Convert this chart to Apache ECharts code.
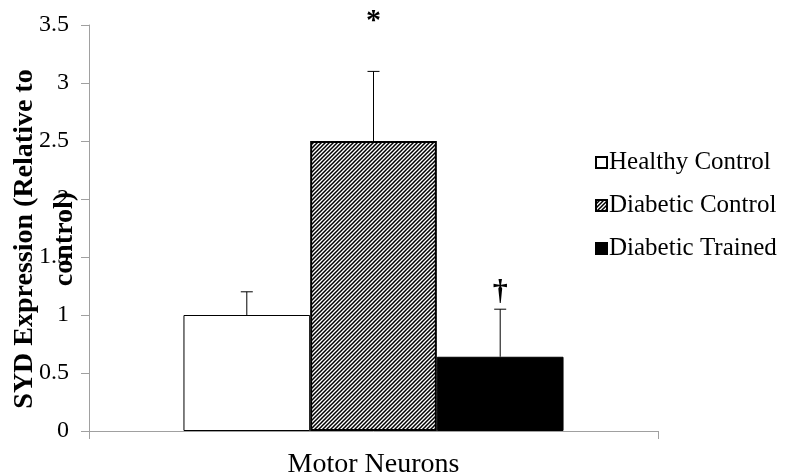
<!DOCTYPE html>
<html>
<head>
<meta charset="utf-8">
<script src="https://cdn.jsdelivr.net/npm/echarts@6/dist/echarts.min.js"></script>
<style>html,body{margin:0;padding:0;background:#fff;}#chart{width:788px;height:475px;}</style>
</head>
<body>
<div id="chart"></div>
<script>
var categories = ['Motor Neurons'];
var seriesNames = ['Healthy Control', 'Diabetic Control', 'Diabetic Trained'];
var means = [1.0, 2.5, 0.64];
var errors = [0.2, 0.6, 0.41];
var markers = ['', '*', '\u2020'];
var markerLevels = [null, 3.53, 1.2];
var yTicks = [0, 0.5, 1, 1.5, 2, 2.5, 3, 3.5];
var yTitleLines = ['SYD Expression (Relative to', 'control)'];

var FONT = 'Liberation Serif';
var CAT_GAP = 0.332;

function hatchPattern() {
  var c = document.createElement('canvas');
  c.width = 4; c.height = 4;
  var g = c.getContext('2d');
  g.fillStyle = '#fff';
  g.fillRect(0, 0, 4, 4);
  g.strokeStyle = '#000';
  g.lineWidth = 1.5;
  g.beginPath();
  g.moveTo(-1, 5); g.lineTo(5, -1);
  g.moveTo(-1, 1); g.lineTo(1, -1);
  g.moveTo(3, 5); g.lineTo(5, 3);
  g.stroke();
  return c;
}

var styles = [
  {color: '#ffffff', borderColor: '#000', borderWidth: 1},
  {color: {image: hatchPattern(), repeat: 'repeat'}, borderColor: '#000', borderWidth: 2},
  {color: '#000000', borderColor: '#000', borderWidth: 1}
];

var series = seriesNames.map(function (name, i) {
  return {
    name: name,
    type: 'bar',
    data: [means[i]],
    barGap: '0%',
    barCategoryGap: (CAT_GAP * 100) + '%',
    itemStyle: styles[i],
    emphasis: {disabled: true},
    silent: true,
    z: 2
  };
});

var errData = means.map(function (m, i) {
  return [0, m, m + errors[i], i, markerLevels[i] == null ? 0 : markerLevels[i]];
});

series.push({
  type: 'custom',
  name: 'errors',
  silent: true,
  z: 5,
  data: errData,
  renderItem: function (params, api) {
    var idx = api.value(3);
    var band = api.size([1, 0])[0];
    var barW = band * (1 - CAT_GAP) / 3;
    var off = (idx - 1) * barW;
    var p0 = api.coord([api.value(0), api.value(1)]);
    var p1 = api.coord([api.value(0), api.value(2)]);
    var x = p0[0] + off;
    var cap = 6;
    var children = [
      {type: 'line', shape: {x1: x, y1: p0[1], x2: x, y2: p1[1]}, style: {stroke: '#000', lineWidth: 1}},
      {type: 'line', shape: {x1: x - cap, y1: p1[1], x2: x + cap, y2: p1[1]}, style: {stroke: '#000', lineWidth: 1}}
    ];
    var mk = markers[idx];
    if (mk) {
      var pm = api.coord([api.value(0), api.value(4)]);
      children.push({type: 'text', x: x, y: pm[1], style: {text: mk, fill: '#000', font: 'bold 30px "' + FONT + '"', align: 'center', verticalAlign: 'middle'}});
    }
    return {type: 'group', children: children};
  }
});

var chart = echarts.init(document.getElementById('chart'));
chart.setOption({
  animation: false,
  backgroundColor: '#fff',
  grid: {left: 89, right: 130, top: 25, bottom: 44, containLabel: false, outerBoundsMode: 'none'},
  legend: {
    data: seriesNames,
    orient: 'vertical',
    left: 590,
    top: 145,
    itemWidth: 11,
    itemHeight: 11,
    itemGap: 18,
    icon: 'rect',
    selectedMode: false,
    textStyle: {fontFamily: FONT, fontSize: 25, color: '#000', padding: [0, 0, 0, -3]}
  },
  graphic: [{
    type: 'text',
    x: 45,
    y: 239,
    rotation: Math.PI / 2,
    silent: true,
    style: {
      text: yTitleLines.join('\n'),
      font: 'bold 28px "' + FONT + '"',
      fill: '#000',
      align: 'center',
      verticalAlign: 'middle',
      lineHeight: 40
    }
  }],
  xAxis: {
    type: 'category',
    data: categories,
    axisLine: {lineStyle: {color: '#a0a0a0', width: 1}},
    axisTick: {show: true, length: 8, lineStyle: {color: '#a0a0a0'}},
    axisLabel: {fontFamily: FONT, fontSize: 28, color: '#000', margin: 20}
  },
  yAxis: {
    type: 'value',
    min: 0,
    max: 3.5,
    interval: 0.5,
    axisLine: {show: true, lineStyle: {color: '#a0a0a0', width: 1}},
    axisTick: {show: true, length: 8, lineStyle: {color: '#a0a0a0'}},
    splitLine: {show: false},
    axisLabel: {fontFamily: FONT, fontSize: 24, color: '#000', margin: 20,
      formatter: function (v) { return String(v); }}
  },
  series: series
});
</script>
</body>
</html>
